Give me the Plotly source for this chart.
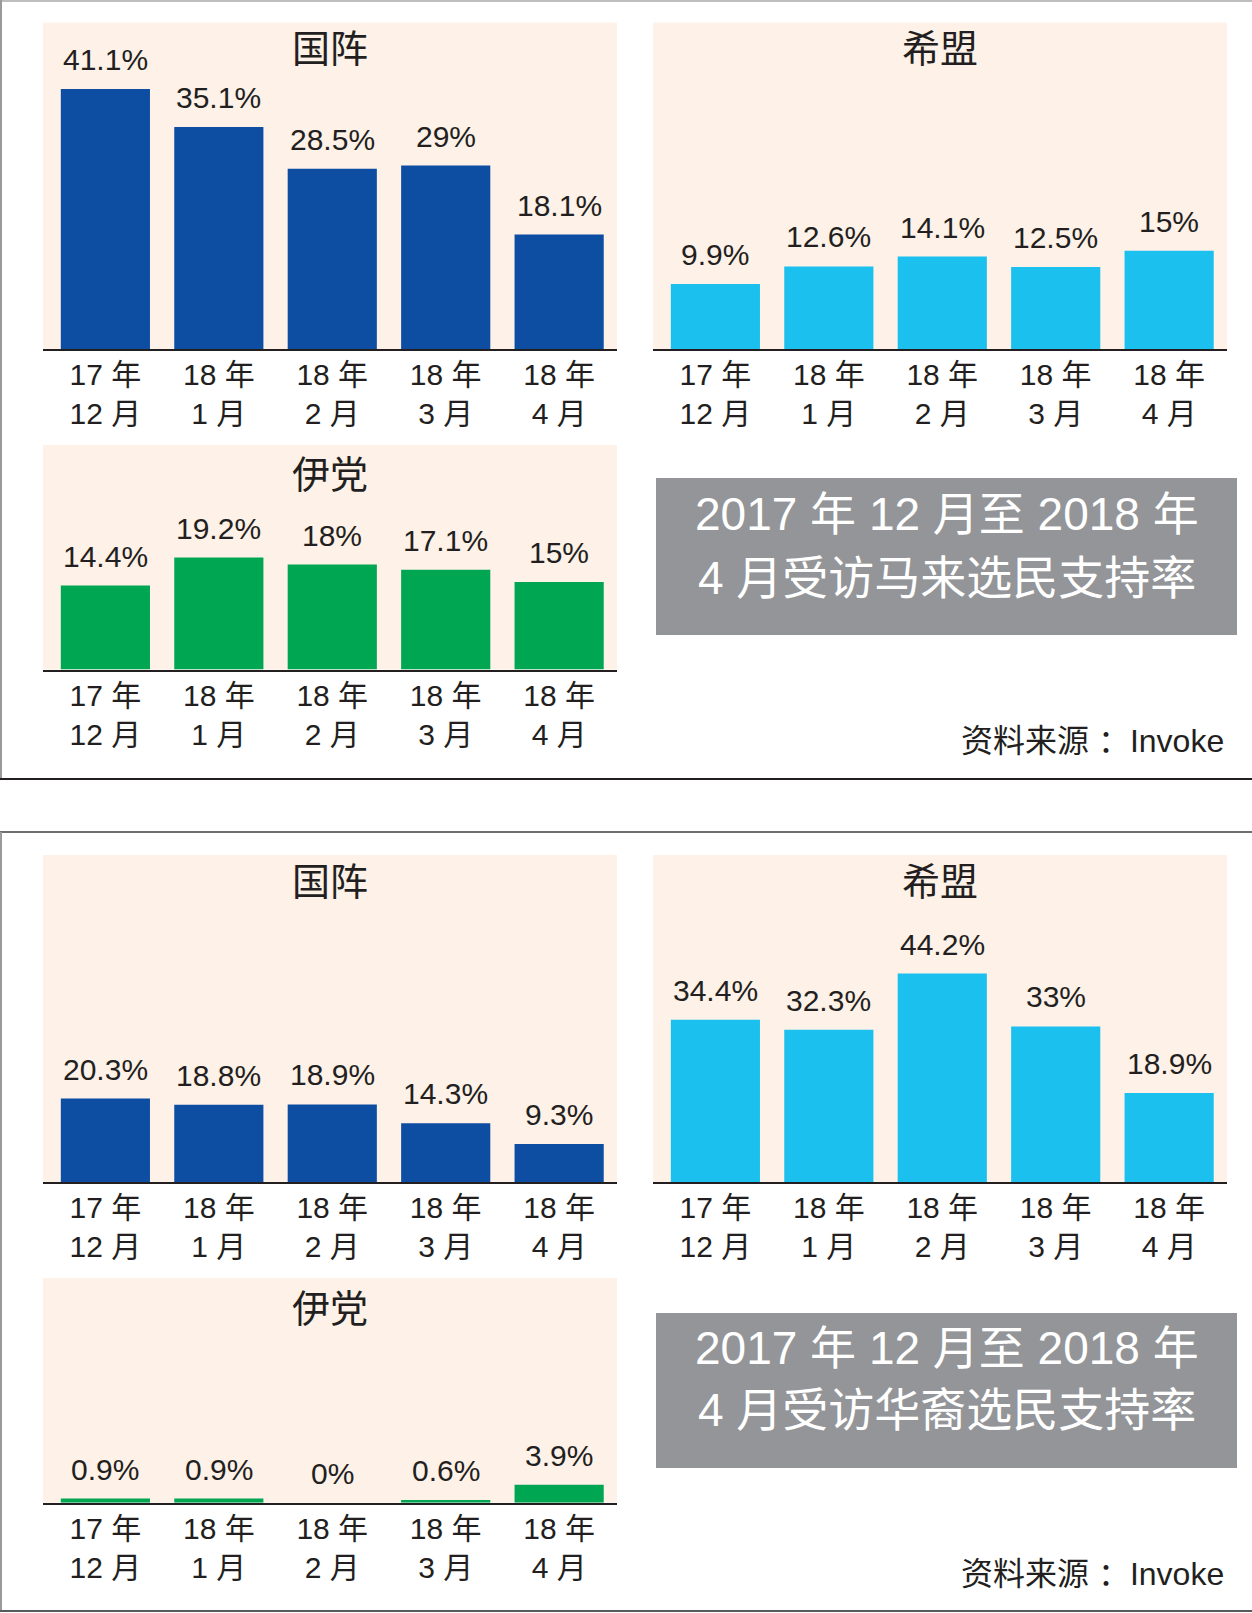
import plotly.graph_objects as go

W, H = 1252, 1613

# ---------------- data ----------------
tick_labels = ["17 年<br>12 月", "18 年<br>1 月", "18 年<br>2 月", "18 年<br>3 月", "18 年<br>4 月"]

malay_bn = [41.1, 35.1, 28.5, 29, 18.1]
malay_ph = [9.9, 12.6, 14.1, 12.5, 15]
malay_pas = [14.4, 19.2, 18, 17.1, 15]

chinese_bn = [20.3, 18.8, 18.9, 14.3, 9.3]
chinese_ph = [34.4, 32.3, 44.2, 33, 18.9]
chinese_pas = [0.9, 0.9, 0, 0.6, 3.9]

party_titles = ["国阵", "希盟", "伊党"]
box_titles = [["2017 年 12 月至 2018 年", "4 月受访马来选民支持率"],
              ["2017 年 12 月至 2018 年", "4 月受访华裔选民支持率"]]
source_text = "资料来源 ：Invoke"

# ---------------- style ----------------
BLUE = "#0d4da2"
CYAN = "#1bc0ef"
GREEN = "#00a651"
BG = "#fdf1e8"
GREY_BOX = "#939598"
INK = "#231f20"
LATIN = "Liberation Sans, Arial, Noto Sans CJK SC"
CJK = "Noto Sans CJK SC, Liberation Sans"


def py(p):
    return 1 - p / H


def px(p):
    return p / W


# panel geometry in pixels: (x0, x1, top, axis_y, ymax, title_center_y)
panels = [
    (party_titles[0], malay_bn, BLUE, (43, 617, 22.6, 349, 51.6, 46)),
    (party_titles[1], malay_ph, CYAN, (653, 1227, 22.6, 349, 49.8, 46)),
    (party_titles[2], malay_pas, GREEN, (43, 617, 445, 669.5, 38.5, 472)),
    (party_titles[0], chinese_bn, BLUE, (43, 617, 855, 1182.3, 79.4, 878.5)),
    (party_titles[1], chinese_ph, CYAN, (653, 1227, 855, 1182.3, 69.3, 878.5)),
    (party_titles[2], chinese_pas, GREEN, (43, 617, 1278, 1502.7, 48.8, 1305)),
]

fig = go.Figure()
annotations = []
layout_axes = {}

for i, (title, vals, color, (x0, x1, top, axy, ymax, ty)) in enumerate(panels, start=1):
    xa = "x" if i == 1 else f"x{i}"
    ya = "y" if i == 1 else f"y{i}"
    fig.add_trace(go.Bar(
        x=tick_labels, y=vals, marker=dict(color=color, line=dict(width=0)),
        xaxis=xa, yaxis=ya, showlegend=False, hoverinfo="skip",
    ))
    layout_axes["xaxis" if i == 1 else f"xaxis{i}"] = dict(
        domain=[px(x0), px(x1)], anchor=ya, type="category",
        range=[-0.55, 4.51], showgrid=False, zeroline=False,
        showline=True, linecolor=INK, linewidth=2, ticks="",
        tickfont=dict(family=LATIN, size=30, color=INK),
        ticklabelstandoff=-2, fixedrange=True,
    )
    layout_axes["yaxis" if i == 1 else f"yaxis{i}"] = dict(
        domain=[py(axy), py(top)], anchor=xa, range=[0, ymax],
        visible=False, showgrid=False, zeroline=False, fixedrange=True,
    )
    # title
    annotations.append(dict(
        text=title, xref=f"{xa} domain", x=0.5, yref="paper", y=py(ty),
        xanchor="center", yanchor="middle", showarrow=False,
        font=dict(family=CJK, size=38, color=INK),
    ))
    # value labels
    for c, v in zip(tick_labels, vals):
        annotations.append(dict(
            text=f"{v:g}%", x=c, y=v, xref=xa, yref=ya,
            xanchor="center", yanchor="bottom", yshift=11, showarrow=False,
            font=dict(family=LATIN, size=30, color=INK),
        ))

# grey title boxes and source lines
shapes = []
for (btop, bbot, l1, l2, src_y), lines in zip(
        [(478, 635, 514, 578, 741), (1313, 1468, 1348, 1410, 1574)], box_titles):
    shapes.append(dict(type="rect", xref="paper", yref="paper",
                       x0=px(656), x1=px(1237), y0=py(bbot), y1=py(btop),
                       fillcolor=GREY_BOX, line=dict(width=0), layer="below"))
    for ly, txt in zip((l1, l2), lines):
        annotations.append(dict(
            text=txt, xref="paper", yref="paper", x=px(946.5), y=py(ly),
            xanchor="center", yanchor="middle", showarrow=False,
            font=dict(family=LATIN, size=46, color="white"),
        ))
    annotations.append(dict(
        text=source_text, xref="paper", yref="paper", x=px(1226), y=py(src_y),
        xanchor="right", yanchor="middle", showarrow=False,
        font=dict(family=LATIN, size=32, color=INK),
    ))

# frame lines
def hline(y, color, w=2, x0=0, x1=W):
    return dict(type="line", xref="paper", yref="paper", x0=px(x0), x1=px(x1),
                y0=py(y), y1=py(y), line=dict(color=color, width=w))


def vline(x, ya, yb, color, w=2):
    return dict(type="line", xref="paper", yref="paper", x0=px(x), x1=px(x),
                y0=py(ya), y1=py(yb), line=dict(color=color, width=w))


shapes += [
    hline(1, "#bcbec0"),
    vline(1, 0, 779, "#9a9a9a"),
    hline(779, INK),
    hline(832, "#6d6e71"),
    vline(1, 832, 1612, "#9a9a9a"),
    hline(1611, "#58595b"),
]

fig.update_layout(
    width=W, height=H, margin=dict(l=0, r=0, t=0, b=0),
    paper_bgcolor="white", plot_bgcolor=BG,
    bargap=0.214, annotations=annotations, shapes=shapes,
    **layout_axes,
)

fig.write_html("out.html", config={"displayModeBar": False},
               post_script="document.body.style.margin='0';document.body.style.overflow='hidden';")
